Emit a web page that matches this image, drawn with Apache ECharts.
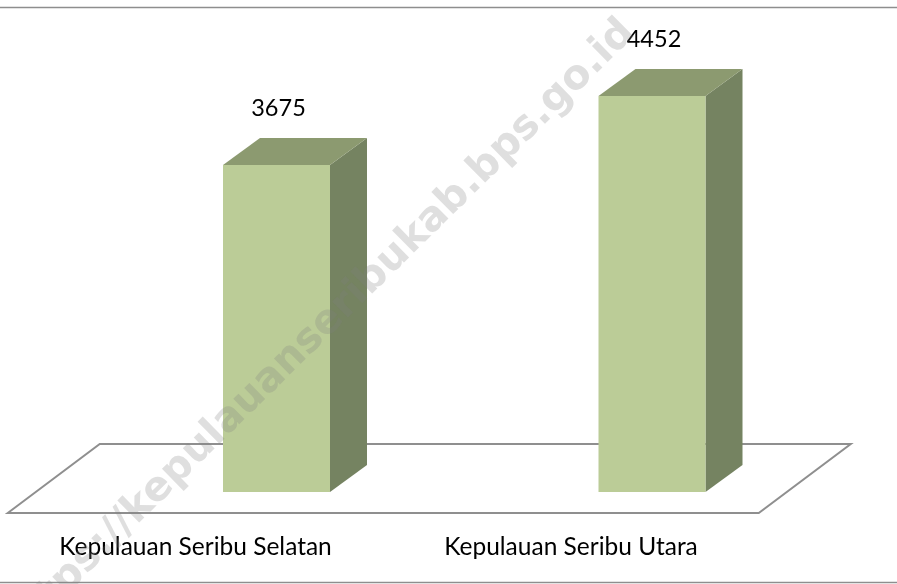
<!DOCTYPE html>
<html>
<head>
<meta charset="utf-8">
<script src="https://cdn.jsdelivr.net/npm/echarts@6/dist/echarts.min.js"></script>
<style>
  html, body { margin: 0; padding: 0; background: #fff; }
  #chart { width: 897px; height: 584px; }
</style>
</head>
<body>
<div id="chart"></div>
<script>
const categories = ['Kepulauan Seribu Selatan', 'Kepulauan Seribu Utara']
const values = [3675, 4452]
const watermark = 'https://kepulauanseribukab.bps.go.id'

const FONT = 'Lato, "Open Sans", sans-serif'
const FRONT = '#bbcc97'
const TOP = '#8c9a70'
const SIDE = '#758361'
const DEPTH_X = 37
const DEPTH_Y = 27
const BAR_W = 107

const chart = echarts.init(document.getElementById('chart'))

function renderFloor(params, api) {
  const cs = params.coordSys
  const base = api.coord([0, 0])[1]
  const front = base + 21
  const back = base - 48
  return {
    type: 'polygon',
    shape: {
      points: [
        [cs.x - 81, front],
        [cs.x + 11, back],
        [cs.x + cs.width + 11, back],
        [cs.x + cs.width - 81, front],
      ],
    },
    style: { fill: 'none', stroke: '#8f8f8f', lineWidth: 2 },
  }
}

function renderBar(params, api) {
  const idx = api.value(0)
  const base = api.coord([idx, 0])
  const top = api.coord([idx, api.value(1)])
  const x = base[0] - BAR_W / 2
  const x2 = x + BAR_W
  const yt = top[1]
  const yb = base[1]
  return {
    type: 'group',
    children: [
      {
        type: 'polygon',
        shape: { points: [[x2, yt], [x2 + DEPTH_X, yt - DEPTH_Y], [x2 + DEPTH_X, yb - DEPTH_Y], [x2, yb]] },
        style: { fill: SIDE },
      },
      {
        type: 'polygon',
        shape: { points: [[x, yt], [x + DEPTH_X, yt - DEPTH_Y], [x2 + DEPTH_X, yt - DEPTH_Y], [x2, yt]] },
        style: { fill: TOP },
      },
      {
        type: 'rect',
        shape: { x: x, y: yt, width: BAR_W, height: yb - yt },
        style: { fill: FRONT },
      },
      {
        type: 'text',
        x: base[0] + 2,
        y: yt - 57,
        style: {
          text: String(api.value(1)),
          font: '23.5px ' + FONT,
          fill: '#000',
          align: 'center',
          verticalAlign: 'middle',
        },
      },
      {
        type: 'text',
        x: base[0] - 81,
        y: yb + 55,
        style: {
          text: categories[idx],
          font: '24.5px ' + FONT,
          fill: '#000',
          align: 'center',
          verticalAlign: 'middle',
        },
      },
    ],
  }
}

chart.setOption({
  animation: false,
  backgroundColor: '#fff',
  grid: { left: 88.75, right: 57.25, top: 47.2, bottom: 92 },
  xAxis: { type: 'category', data: categories, show: false },
  yAxis: { type: 'value', min: 0, max: 5000, show: false },
  graphic: [
    {
      type: 'line',
      shape: { x1: 0, y1: 7.5, x2: 897, y2: 7.5 },
      style: { stroke: '#8e8e8e', lineWidth: 1.5 },
    },
    {
      type: 'line',
      shape: { x1: 0, y1: 582.5, x2: 897, y2: 582.5 },
      style: { stroke: '#8e8e8e', lineWidth: 1.5 },
    },
    {
      type: 'text',
      x: 319,
      y: 331,
      rotation: 44.5 * Math.PI / 180,
      z: 100,
      style: {
        text: watermark,
        font: 'bold 41px "DejaVu Sans", sans-serif',
        fill: 'rgba(128,128,128,0.25)',
        align: 'center',
        verticalAlign: 'middle',
      },
    },
  ],
  series: [
    {
      type: 'custom',
      renderItem: renderFloor,
      data: [[0, 0]],
      z: 1,
      silent: true,
    },
    {
      type: 'custom',
      renderItem: renderBar,
      data: values.map((v, i) => [i, v]),
      encode: { x: 0, y: 1 },
      z: 2,
    },
  ],
})
</script>
</body>
</html>
